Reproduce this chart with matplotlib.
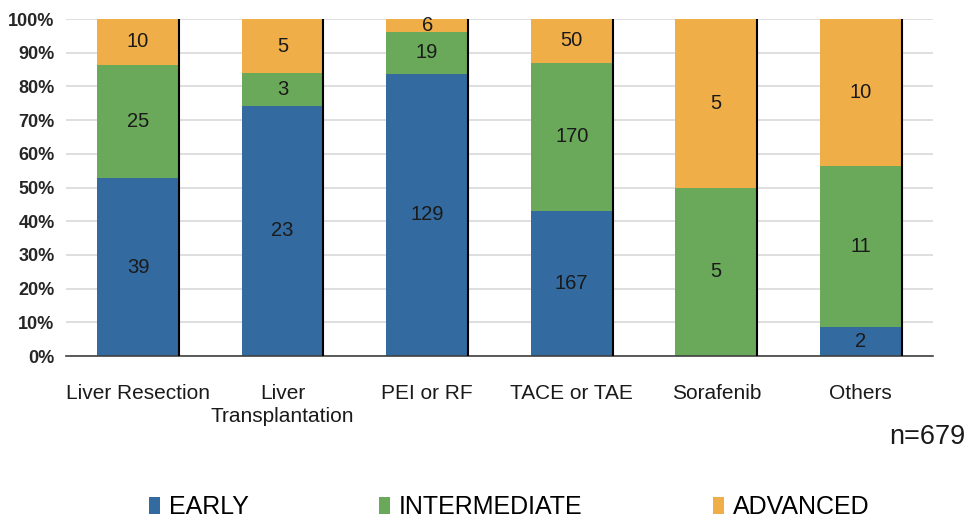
import matplotlib.pyplot as plt
import numpy as np

plt.rcParams['font.family'] = ['Liberation Sans', 'DejaVu Sans']

# --- data (patient counts per treatment and stage) ---
treatments = ["Liver Resection", "Liver\nTransplantation", "PEI or RF",
              "TACE or TAE", "Sorafenib", "Others"]
early = [39, 23, 129, 167, 0, 2]
intermediate = [25, 3, 19, 170, 5, 11]
advanced = [10, 5, 6, 50, 5, 10]
stage_names = ["EARLY", "INTERMEDIATE", "ADVANCED"]
stage_colors = ["#336a9f", "#6aa85a", "#f0ae48"]
total_label = "n=679"

counts = np.array([early, intermediate, advanced], dtype=float)
shares = counts / counts.sum(axis=0) * 100

fig = plt.figure(figsize=(9.66, 5.22), dpi=100)
ax = fig.add_axes([0.068, 0.318, 0.898, 0.6456])

x = np.arange(len(treatments))
width = 0.565
bottom = np.zeros(len(treatments))
for i in range(3):
    ax.bar(x, shares[i], width, bottom=bottom, color=stage_colors[i],
           label=stage_names[i], zorder=2)
    # count labels in the middle of each segment
    for j in range(len(treatments)):
        if counts[i, j] > 0:
            ax.text(x[j], bottom[j] + shares[i, j] / 2, str(int(counts[i, j])),
                    ha="center", va="center", fontsize=14.5, color="#1a1a1a", zorder=3)
    bottom += shares[i]

# dark right edge on each bar
ax.vlines(x + width / 2, 0, 100, color="black", linewidth=1.5, zorder=3)

ax.set_xlim(-0.5, len(treatments) - 0.5)
ax.set_ylim(0, 100)
ax.set_yticks(np.arange(0, 101, 10))
ax.set_yticklabels([f"{v}%" for v in range(0, 101, 10)])
ax.set_xticks(x)
ax.set_xticklabels(treatments, fontsize=15, color="#1a1a1a", linespacing=1.25)
for lbl in ax.get_yticklabels():
    lbl.set_fontsize(13)
    lbl.set_fontweight("bold")
    lbl.set_color("#262626")

ax.yaxis.grid(True, color="#d9d9d9", linewidth=1.2, zorder=0)
ax.set_axisbelow(True)
for side in ["top", "right", "left"]:
    ax.spines[side].set_visible(False)
ax.spines["bottom"].set_color("#404040")
ax.spines["bottom"].set_linewidth(1.2)
ax.tick_params(axis="both", length=0)
ax.tick_params(axis="x", pad=20)
ax.tick_params(axis="y", pad=8)

fig.text(0.999, 0.163, total_label, ha="right", va="center", fontsize=19.5, color="#1a1a1a")

fig.legend(loc="lower center", bbox_to_anchor=(0.527, -0.038), ncol=3, frameon=False,
           fontsize=18, columnspacing=5.2, handlelength=0.45, handleheight=0.7,
           handletextpad=0.35)

fig.savefig("out.png", dpi=100)
